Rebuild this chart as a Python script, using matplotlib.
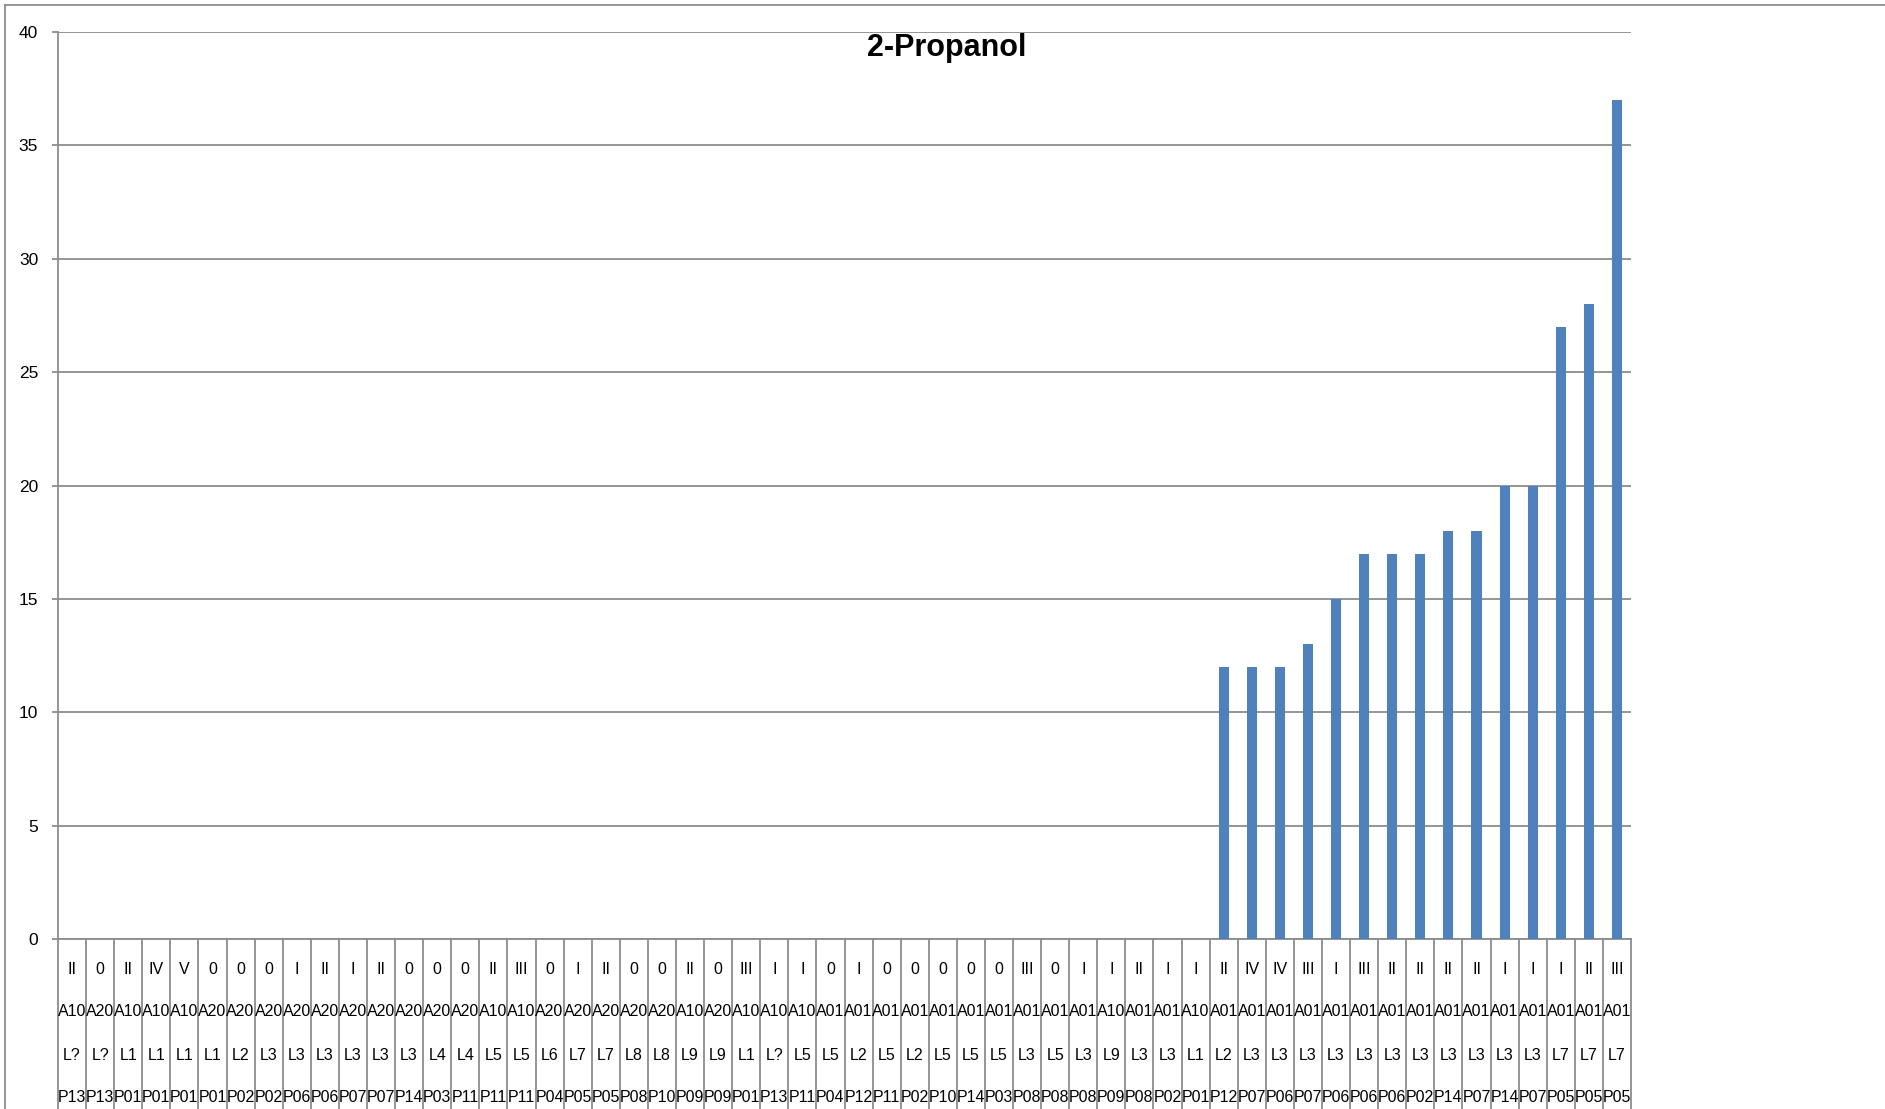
import numpy as np
import matplotlib.pyplot as plt
from matplotlib import font_manager

plt.rcParams['font.family'] = ['Liberation Sans', 'DejaVu Sans']

# category labels: stage / series / line / position
stage = ['II', '0', 'II', 'IV', 'V', '0', '0', '0', 'I', 'II', 'I', 'II', '0', '0',
         '0', 'II', 'III', '0', 'I', 'II', '0', '0', 'II', '0', 'III', 'I', 'I', '0',
         'I', '0', '0', '0', '0', '0', 'III', '0', 'I', 'I', 'II', 'I', 'I', 'II',
         'IV', 'IV', 'III', 'I', 'III', 'II', 'II', 'II', 'II', 'I', 'I', 'I', 'II', 'III']
group = ['A10', 'A20', 'A10', 'A10', 'A10', 'A20', 'A20', 'A20', 'A20', 'A20', 'A20', 'A20', 'A20', 'A20',
         'A20', 'A10', 'A10', 'A20', 'A20', 'A20', 'A20', 'A20', 'A10', 'A20', 'A10', 'A10', 'A10', 'A01',
         'A01', 'A01', 'A01', 'A01', 'A01', 'A01', 'A01', 'A01', 'A01', 'A10', 'A01', 'A01', 'A10', 'A01',
         'A01', 'A01', 'A01', 'A01', 'A01', 'A01', 'A01', 'A01', 'A01', 'A01', 'A01', 'A01', 'A01', 'A01']
line = ['L?', 'L?', 'L1', 'L1', 'L1', 'L1', 'L2', 'L3', 'L3', 'L3', 'L3', 'L3', 'L3', 'L4',
        'L4', 'L5', 'L5', 'L6', 'L7', 'L7', 'L8', 'L8', 'L9', 'L9', 'L1', 'L?', 'L5', 'L5',
        'L2', 'L5', 'L2', 'L5', 'L5', 'L5', 'L3', 'L5', 'L3', 'L9', 'L3', 'L3', 'L1', 'L2',
        'L3', 'L3', 'L3', 'L3', 'L3', 'L3', 'L3', 'L3', 'L3', 'L3', 'L3', 'L7', 'L7', 'L7']
pos = ['P13', 'P13', 'P01', 'P01', 'P01', 'P01', 'P02', 'P02', 'P06', 'P06', 'P07', 'P07', 'P14', 'P03',
       'P11', 'P11', 'P11', 'P04', 'P05', 'P05', 'P08', 'P10', 'P09', 'P09', 'P01', 'P13', 'P11', 'P04',
       'P12', 'P11', 'P02', 'P10', 'P14', 'P03', 'P08', 'P08', 'P08', 'P09', 'P08', 'P02', 'P01', 'P12',
       'P07', 'P06', 'P07', 'P06', 'P06', 'P06', 'P02', 'P14', 'P07', 'P14', 'P07', 'P05', 'P05', 'P05']
values = [0] * 41 + [12, 12, 12, 13, 15, 17, 17, 17, 18, 18, 20, 20, 27, 28, 37]

# narrow face for the crowded table if it is there
installed = {f.name for f in font_manager.fontManager.ttflist}
if 'Liberation Sans Narrow' in installed:
    tab_font, tab_size = 'Liberation Sans Narrow', 13.5
else:
    tab_font, tab_size = 'Liberation Sans', 11.5

W, H = 1885, 1109
fig = plt.figure(figsize=(W / 100, H / 100), dpi=100)
left, right, top, bottom = 58, 1631, 32, 939
ax = fig.add_axes([left / W, 1 - bottom / H, (right - left) / W, (bottom - top) / H])

n = len(values)
x = np.arange(n)
ax.bar(x, values, width=0.36, color='#4F81BD', zorder=3)

grid_c = '#8C8C8C'
ax.set_xlim(-0.5, n - 0.5)
ax.set_ylim(0, 40)
ax.set_yticks(range(0, 41, 5))
ax.yaxis.grid(True, color=grid_c, linewidth=1.3, zorder=0)
ax.tick_params(axis='y', length=4.3, width=1.3, color=grid_c, pad=10, labelsize=12.5)
ax.set_xticks([])
for s in ['top', 'right']:
    ax.spines[s].set_visible(False)
for s in ['left', 'bottom']:
    ax.spines[s].set_color(grid_c)
    ax.spines[s].set_linewidth(1.3)

ax.text((947 - left) / (right - left), 1 - (48 - top) / (bottom - top), '2-Propanol',
        transform=ax.transAxes, ha='center', va='center', fontsize=22, fontweight='bold')

# category table below the axis
trans = ax.get_xaxis_transform()
ph = bottom - top
for b in np.arange(-0.5, n, 1.0):
    ax.plot([b, b], [0, -0.25], color=grid_c, linewidth=1.3, transform=trans, clip_on=False)
rows = [stage, group, line, pos]
row_y = [969, 1011, 1056, 1098]
for labels, yy in zip(rows, row_y):
    for i, lab in enumerate(labels):
        ax.text(i, -(yy - bottom) / ph, lab, transform=trans, ha='center', va='center',
                fontsize=tab_size, family=tab_font, clip_on=False)

# outer chart border
fig.add_artist(plt.Line2D([5 / W, 1], [1 - 5 / H, 1 - 5 / H], color=grid_c, linewidth=1.3))
fig.add_artist(plt.Line2D([5 / W, 5 / W], [0, 1 - 5 / H], color=grid_c, linewidth=1.3))

fig.savefig('out.png', dpi=100)
